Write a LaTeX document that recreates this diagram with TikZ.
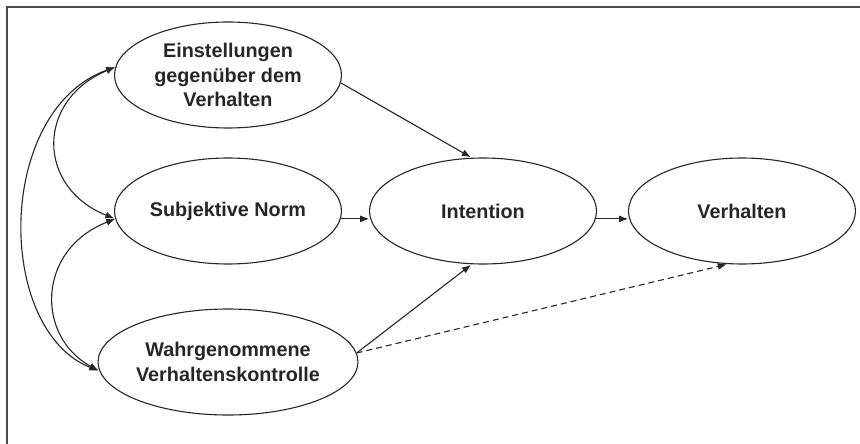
\documentclass[tikz,border=0pt]{standalone}
\usepackage{fontspec}
\setmainfont{Liberation Sans}
\usetikzlibrary{shapes.geometric,arrows.meta}
\begin{document}
\begin{tikzpicture}[x=1pt,y=-1pt,shorten >=1pt,->,>={Latex[length=9pt,width=7pt]},line width=1.1pt,color=black!85]
		\tikzstyle{construct}=[draw,shape=ellipse,minimum width=227pt,minimum height=106pt,inner sep=0pt,align=center,font=\fontsize{19.8}{24.5}\selectfont\bfseries]

		\useasboundingbox (0,0) rectangle (860,444);
		\draw[-,shorten >=0pt,line width=1.8pt,black!70] (860,7) -- (7,7) -- (7,444);

		\node[construct](einst) at (228,75){Einstellungen\\gegenüber dem\\Verhalten};
		\node[construct](norm) at (228,211){Subjektive Norm};
		\node[construct](kontrolle) at (228,362){Wahrgenommene\\Verhaltenskontrolle};
		\node[construct](intention) at (483,211){Intention};
		\node[construct](verhalten) at (742,211){Verhalten};

		\draw (einst.356) -- (intention.102);
		\draw (norm.356) -- (intention.184);
		\draw (kontrolle.4) -- (intention.258);
		\draw (intention.356) -- (verhalten.184);
		\draw[dash pattern=on 6pt off 4pt] (kontrolle.4) -- (verhalten.255);

		% Korrelationen
		\draw[<->] (einst.176) .. controls (36,100) and (36,187) .. (norm.184);
		\draw[<->] (norm.184) .. controls (36,250) and (36,337) .. (kontrolle.184);
		\draw[<->] (einst.176) .. controls (-5,110) and (-5,330) .. (kontrolle.184);
	\end{tikzpicture}
\end{document}
